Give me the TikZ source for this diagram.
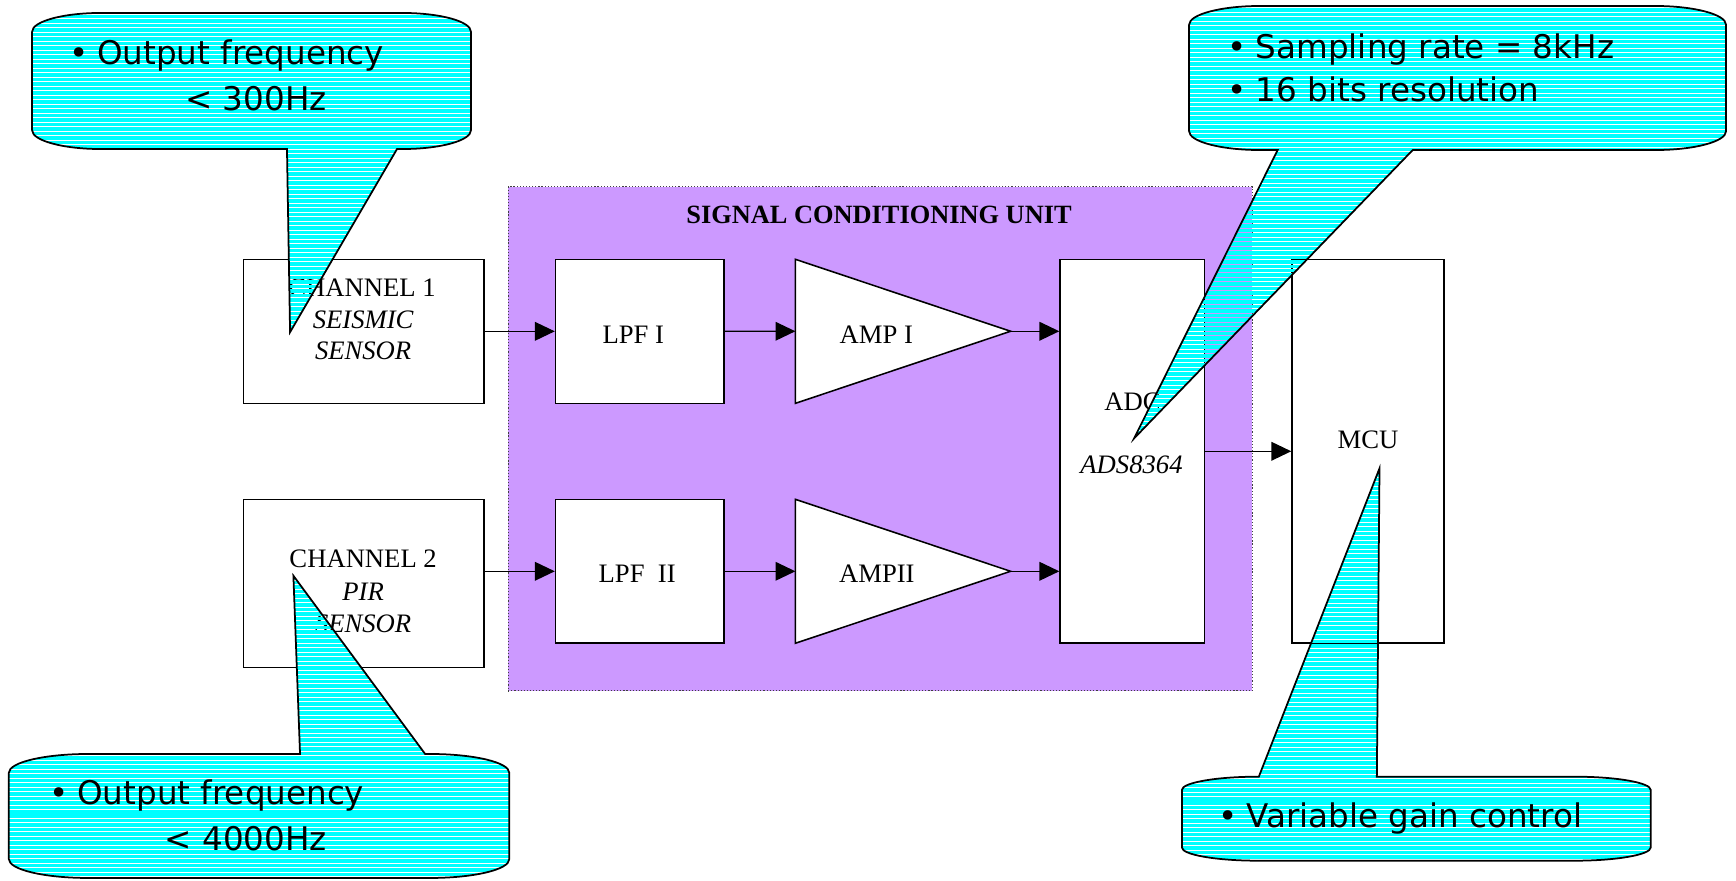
\documentclass[tikz,border=0pt]{standalone}
\usepackage{fontspec}
\setmainfont{Liberation Serif}
\newfontfamily\calfont{DejaVu Sans}
\usetikzlibrary{arrows.meta,fit}
\definecolor{lav}{RGB}{204,153,255}
\definecolor{cyn}{RGB}{0,255,255}
\newcommand\cpathA{(29,28.7) .. controls (29,19.3) and (56.8,11.7) .. (91,11.7)
 -- (363.4,11.7) .. controls (397.6,11.7) and (425.4,19.3) .. (425.4,28.7)
 -- (425.4,117.6) .. controls (425.4,127) and (397.6,134.6) .. (363.4,134.6)
 -- (358.6,134.6) -- (262,300) -- (259.2,134.6)
 -- (91,134.6) .. controls (56.8,134.6) and (29,127) .. (29,117.6) -- cycle}
\newcommand\cpathB{(1074,22.4) .. controls (1074,13) and (1102.7,5.4) .. (1138,5.4)
 -- (1495,5.4) .. controls (1530.3,5.4) and (1559,13) .. (1559,22.4)
 -- (1559,118.5) .. controls (1559,127.9) and (1530.3,135.5) .. (1495,135.5)
 -- (1276,135.5) -- (1024.3,396) -- (1154,135.5)
 -- (1138,135.5) .. controls (1102.7,135.5) and (1074,127.9) .. (1074,118.5) -- cycle}
\newcommand\cpathC{(8,698) .. controls (8,688.6) and (39.7,681) .. (80,681)
 -- (271,681) -- (265,520) -- (384,681)
 -- (388,681) .. controls (428.3,681) and (460,688.6) .. (460,698)
 -- (460,776) .. controls (460,785.4) and (428.3,793) .. (388,793)
 -- (80,793) .. controls (39.7,793) and (8,785.4) .. (8,776) -- cycle}
\newcommand\cpathD{(1067.5,713.5) .. controls (1067.5,706.9) and (1098.4,701.5) .. (1136.5,701.5)
 -- (1137,701.5) -- (1246,423) -- (1243.6,701.5)
 -- (1422,701.5) .. controls (1460.1,701.5) and (1491,706.9) .. (1491,713.5)
 -- (1491,765.4) .. controls (1491,772) and (1460.1,777.4) .. (1422,777.4)
 -- (1136.5,777.4) .. controls (1098.4,777.4) and (1067.5,772) .. (1067.5,765.4) -- cycle}
\begin{document}
\begin{tikzpicture}[x=0.02cm,y=-0.02cm,
  blk/.style={draw=black,line width=0.8pt,fill=white,inner sep=0pt},
  lbl/.style={anchor=base,inner sep=0pt,font=\fontsize{13.7}{16}\selectfont},
  ilbl/.style={anchor=base,inner sep=0pt,font=\fontsize{13.7}{16}\selectfont\itshape},
  arr/.style={line width=0.65pt,-{Triangle[length=10.2pt,width=9.6pt]}},
  stripe/.style={draw=cyn,line width=1.8pt},
  callout/.style={draw=black,line width=0.9pt,line join=miter},
  ctxt/.style={anchor=base west,inner sep=0pt,font=\calfont\fontsize{16.75}{20}\selectfont}]
\useasboundingbox (0,0) rectangle (1568,795);

% signal conditioning unit
\node[fit={(459,168.6) (1131,623.9)},inner sep=0pt,fill=lav,draw=black!75,densely dotted,line width=0.6pt] (scu) {};
\node[anchor=base,inner sep=0pt,font=\bfseries\fontsize{13.55}{16}\selectfont] (title) at (794,201.6) {SIGNAL CONDITIONING UNIT};

% blocks
\node[blk,fit={(220,234.2) (437,364.3)}] (ch1) {};
\node[blk,fit={(501.8,234.2) (653.9,364.3)}] (lpf1) {};
\node[blk,fit={(957.5,234.2) (1088,581)}] (adc) {};
\node[blk,fit={(501.8,451) (653.9,581)}] (lpf2) {};
\node[blk,fit={(220,451) (437,603)}] (ch2) {};
\node[blk,fit={(1167,234.2) (1304,581)}] (mcu) {};

% amplifiers
\draw[blk] (718.4,234.2) -- (912.8,299.2) -- (718.4,364.3) -- cycle;
\draw[blk] (718.4,451) -- (912.8,516) -- (718.4,581) -- cycle;
\coordinate (amp1in) at (718.4,299.2);
\coordinate (amp1out) at (912.8,299.2);
\coordinate (amp2in) at (718.4,516);
\coordinate (amp2out) at (912.8,516);

% connectors
\draw[arr] (ch1.east) -- (lpf1.west);
\draw[arr] (lpf1.east) -- (amp1in);
\draw[arr] (amp1out) -- (adc.west |- amp1out);
\draw[arr] (ch2.east |- lpf2.west) -- (lpf2.west);
\draw[arr] (lpf2.east) -- (amp2in);
\draw[arr] (amp2out) -- (adc.west |- amp2out);
\draw[arr] (adc.east) -- (mcu.west);

% labels
\node[lbl] (ch1a) at (327,268) {CHANNEL 1};
\node[ilbl] (ch1b) at (328,296.5) {SEISMIC};
\node[ilbl] (ch1c) at (328,324.6) {SENSOR};
\node[lbl] (ch2a) at (328,513) {CHANNEL 2};
\node[ilbl] (ch2b) at (328,542) {PIR};
\node[ilbl] (ch2c) at (328,571) {SENSOR};
\node[lbl] (lpf1t) at (572,310) {LPF I};
\node[lbl] (lpf2t) at (575.5,526.5) {LPF\ \ II};
\node[lbl] (amp1t) at (791.5,310) {AMP I};
\node[lbl] (amp2t) at (792,526.5) {AMPII};
\node[lbl] (adct) at (1023,370.5) {ADC};
\node[ilbl] (adcn) at (1022,428) {ADS8364};
\node[lbl] (mcut) at (1235.6,405) {MCU};

% callout 1
\begin{scope}
\clip \cpathA;
\foreach \y in {11,15.06,...,302} \draw[stripe] (20,\y) -- (430,\y);
\end{scope}
\draw[callout] \cpathA;
\node[ctxt] (c1a) at (62,58.7) {•\hspace{4.6pt}Output frequency};
\node[ctxt] (c1b) at (167,99.4) {< 300Hz};

% callout 2
\begin{scope}
\clip \cpathB;
\foreach \y in {5,9.06,...,398} \draw[stripe] (1015,\y) -- (1565,\y);
\end{scope}
\draw[callout] \cpathB;
\node[ctxt] (c2a) at (1108.5,52.7) {•\hspace{4.6pt}Sampling rate = 8kHz};
\node[ctxt] (c2b) at (1108.5,91.8) {•\hspace{4.6pt}16 bits resolution};

% callout 3
\begin{scope}
\clip \cpathC;
\foreach \y in {518,522.06,...,796} \draw[stripe] (0,\y) -- (465,\y);
\end{scope}
\draw[callout] \cpathC;
\node[ctxt] (c3a) at (44,727) {•\hspace{4.6pt}Output frequency};
\node[ctxt] (c3b) at (148.6,768) {< 4000Hz};

% callout 4
\begin{scope}
\clip \cpathD;
\foreach \y in {421,425.06,...,780} \draw[stripe] (1060,\y) -- (1495,\y);
\end{scope}
\draw[callout] \cpathD;
\node[ctxt] (c4a) at (1100,747) {•\hspace{4.6pt}Variable gain control};
\end{tikzpicture}
\end{document}
